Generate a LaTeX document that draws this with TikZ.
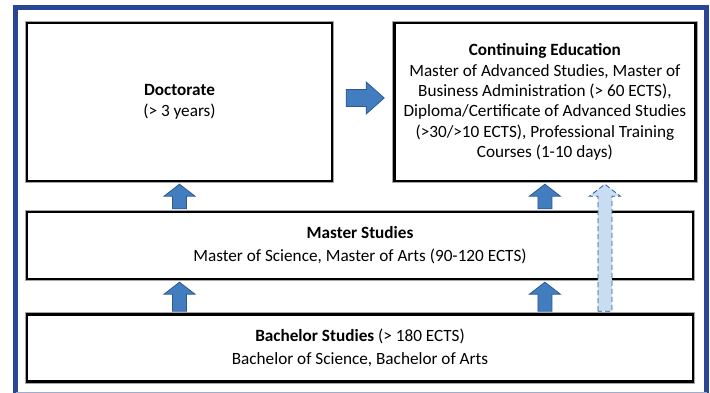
\documentclass[tikz,border=0pt]{standalone}
\usepackage{fontspec}
\setmainfont{Carlito}
\usetikzlibrary{positioning,calc}
\definecolor{framblue}{RGB}{42,71,151}
\definecolor{arrfill}{RGB}{66,125,192}
\definecolor{arrline}{RGB}{44,88,148}
\definecolor{dashfill}{RGB}{200,220,242}

\begin{document}
\begin{tikzpicture}[x=1pt,y=-1pt,
box/.style={draw=black,line width=2.4pt,preaction={draw=black!35,line width=4.2pt},
  fill=white,align=center,inner sep=0pt,font=\fontsize{17.2}{20.4}\selectfont},
uparr/.style={fill=arrfill,draw=arrline,line width=0.8pt,
  to path={let \p1=(\tikztostart),\p2=(\tikztotarget) in
  (\x1-7pt,\y1+2pt) -- (\x1-7pt,\y2-14pt) -- (\x1-15.5pt,\y2-14pt) -- (\x1,\y2-2pt)
  -- (\x1+15.5pt,\y2-14pt) -- (\x1+7pt,\y2-14pt) -- (\x1+7pt,\y1+2pt) -- cycle}},
dasharr/.style={uparr,fill=dashfill,dash pattern=on 5pt off 3pt},
rightarr/.style={fill=arrfill,draw=arrline,line width=0.8pt,
  to path={let \p1=(\tikztostart),\p2=(\tikztotarget) in
  (\x1+13pt,\y1+8.5pt) -- (\x2-27pt,\y1+8.5pt) -- (\x2-27pt,\y1+16pt) -- (\x2-9pt,\y1)
  -- (\x2-27pt,\y1-16pt) -- (\x2-27pt,\y1-8.5pt) -- (\x1+13pt,\y1-8.5pt) -- cycle}}]
\useasboundingbox (0,0) rectangle (710,393);
\draw[framblue,line width=5pt] (15.5,396) -- (15.5,7.5) -- (706.5,7.5) -- (706.5,396);
\draw[framblue!45,line width=1pt] (15.5,392.5) -- (706.5,392.5);

\node[box,minimum width=305pt,minimum height=158pt] (doc) at (179.5,102)
  {\textbf{Doctorate}\\(> 3 years)};
\node[box,minimum width=301pt,minimum height=158pt,right=60pt of doc] (cont)
  {\textbf{Continuing Education}\\Master of Advanced Studies, Master of\\
   Business Administration (> 60 ECTS),\\Diploma/Certificate of Advanced Studies\\
   (>30/>10 ECTS), Professional Training\\Courses (1-10 days)};
\node[box,minimum width=666pt,minimum height=67pt] (mast) at (360,245.5)
  {\textbf{Master Studies}\\[2.5pt]Master of Science, Master of Arts (90-120 ECTS)};
\node[box,minimum width=666pt,minimum height=67pt,below=33pt of mast] (bach)
  {\textbf{Bachelor Studies} (> 180 ECTS)\\[2.5pt]Bachelor of Science, Bachelor of Arts};

\foreach \B in {doc,cont}
{\draw[uparr] (mast.north -| \B.south) to (\B.south);
 \draw[uparr] (bach.north -| \B.south) to (mast.south -| \B.south);
}
\coordinate (ce) at ([xshift=60pt]cont.south);
\draw[dasharr] (bach.north -| ce) to (ce);
\draw[rightarr] ([yshift=4pt]doc.east) to ([yshift=4pt]cont.west);
\end{tikzpicture}
\end{document}
